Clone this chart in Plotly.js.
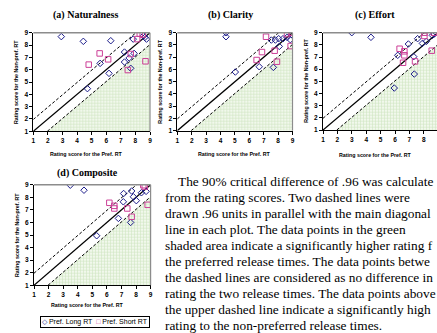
<!DOCTYPE html>
<html><head><meta charset="utf-8">
<script src="https://cdn.plot.ly/plotly-3.0.1.min.js"></script>
<style>html,body{margin:0;padding:0;background:#fff}#c{width:437px;height:333px}</style>
</head><body><div id="c"></div>
<script>
// ---- data ----
const panelTitles = ["(a) Naturalness", "(b) Clarity", "(c) Effort", "(d) Composite"];
const axisTicks = [1, 2, 3, 4, 5, 6, 7, 8, 9];
const critDiff = 0.96;
const seriesNames = ["Pref. Long RT", "Pref. Short RT"];

const natLongX  = [2.92, 4.43, 6.31, 5.58, 4.71, 6.19, 7.25, 7.25, 7.57, 7.91, 7.68, 7.85, 8.55, 8.76, 8.65];
const natLongY  = [8.68, 8.30, 8.35, 6.51, 4.46, 5.70, 7.43, 6.62, 6.95, 7.32, 6.11, 8.48, 8.75, 8.48, 8.62];
const natShortX = [4.80, 5.55, 6.13, 7.68, 7.48, 8.69, 8.12, 8.30, 8.50];
const natShortY = [6.41, 7.32, 6.84, 7.27, 5.97, 6.68, 8.48, 8.92, 8.85];

const claLongX  = [4.38, 4.38, 5.03, 6.69, 7.67, 7.53, 7.81, 8.04, 8.34, 8.62, 8.85, 8.96, 8.08];
const claLongY  = [9.00, 8.67, 5.79, 6.22, 6.17, 8.40, 8.40, 8.51, 8.51, 8.62, 8.43, 8.84, 7.88];
const claShortX = [7.16, 6.88, 6.51, 7.76, 7.92, 8.87, 8.62, 8.92];
const claShortY = [8.67, 7.42, 6.77, 7.53, 6.63, 7.91, 8.89, 9.00];

const effLongX  = [3.00, 4.33, 6.19, 6.93, 7.57, 7.30, 7.34, 5.95, 7.90, 8.18, 8.59, 8.73];
const effLongY  = [9.00, 8.62, 7.14, 8.07, 8.51, 7.03, 5.60, 4.45, 8.12, 8.29, 8.78, 8.89];
const effShortX = [8.04, 8.04, 6.32, 6.65, 6.65, 6.56, 7.39, 8.55, 8.69];
const effShortY = [9.00, 8.73, 7.68, 7.47, 7.14, 6.53, 6.64, 7.52, 9.00];

const comLongX  = [3.49, 4.43, 5.30, 6.79, 7.63, 7.15, 7.13, 7.82, 8.02, 8.37, 8.69, 7.70];
const comLongY  = [8.96, 8.56, 4.94, 6.32, 6.00, 8.30, 7.64, 8.04, 7.73, 8.36, 8.47, 8.50];
const comShortX = [6.17, 6.51, 6.51, 7.40, 7.70, 8.50, 8.60, 8.80];
const comShortY = [7.56, 7.32, 7.11, 7.11, 6.45, 8.96, 8.85, 7.40];

// paragraph as visible in the reference (cropped at the right edge there)
const paragraph = [
  "The 90% critical difference of .96 was calculate",
  "from the rating scores. Two dashed lines were",
  "drawn .96 units in parallel with the main diagonal",
  "line in each plot. The data points in the green",
  "shaded area indicate a significantly higher rating f",
  "the preferred release times. The data points betwe",
  "the dashed lines are considered as no difference in",
  "rating the two release times. The data points above",
  "the upper dashed line indicate a significantly high",
  "rating to the non-preferred release times."
];
const xTitle = "Rating score for the Pref. RT";
const yTitle = "Rating score for the Non-pref. RT";

// ---- layout helpers ----
const W = 437, H = 333;
const px = v => v / W, py = v => 1 - v / H;
const LONG_C = "#1c1c8a", SHORT_C = "#cc3f97";

const panels = [
  {lx: natLongX, ly: natLongY, sx: natShortX, sy: natShortY, x0: 33.3, x1: 150.0, top: 32.7, bot: 131.3, xmax: 9, tcx: 85, tty: 15, ytx: 16, xty: 154},
  {lx: claLongX, ly: claLongY, sx: claShortX, sy: claShortY, x0: 177.3, x1: 292.5, top: 32.7, bot: 130.7, xmax: 9, tcx: 231, tty: 15, ytx: 160, xty: 154},
  {lx: effLongX, ly: effLongY, sx: effShortX, sy: effShortY, x0: 323.0, x1: 437, top: 32.7, bot: 130.0, xmax: 1 + (437 - 323) / 14.4, tcx: 375, tty: 15, ytx: 306.5, xty: 155},
  {lx: comLongX, ly: comLongY, sx: comShortX, sy: comShortY, x0: 34.0, x1: 150.6, top: 184.7, bot: 285.3, xmax: 9, tcx: 87, tty: 173, ytx: 17, xty: 305}
];

const traces = [], shapes = [], annotations = [];
const layout = {
  width: W, height: H, margin: {l: 0, r: 0, t: 0, b: 0},
  paper_bgcolor: "#fff", plot_bgcolor: "rgba(0,0,0,0)", showlegend: false,
  font: {family: "Liberation Sans, Arial, sans-serif", color: "#000"}
};
const tickFont = {family: "Liberation Sans, Arial, sans-serif", size: 6.5, weight: "bold", color: "#000"};

panels.forEach((p, i) => {
  const n = i === 0 ? "" : String(i + 1);
  const xa = "x" + n, ya = "y" + n;
  const lo = axisTicks[0], hi = axisTicks[axisTicks.length - 1];
  const common = {
    showgrid: false, zeroline: false, showline: true, linecolor: "#000", linewidth: 1,
    ticks: "outside", ticklen: 3, tickwidth: 1, tickcolor: "#000",
    tickmode: "array", tickvals: axisTicks, ticktext: axisTicks.map(String),
    tickfont: tickFont, fixedrange: true
  };
  layout["xaxis" + n] = Object.assign({}, common, {
    domain: [px(p.x0), Math.min(1, px(p.x1))], range: [lo, p.xmax], anchor: ya
  });
  layout["yaxis" + n] = Object.assign({}, common, {
    domain: [py(p.bot), py(p.top)], range: [lo, hi], anchor: xa
  });
  // shaded region: below lower dashed line
  traces.push({
    x: [lo + critDiff, hi, hi, lo + critDiff], y: [lo, lo, hi - critDiff, lo],
    xaxis: xa, yaxis: ya, mode: "none", fill: "toself",
    fillcolor: "#eaf4e2",
    fillpattern: {shape: "+", bgcolor: "#f1f8ec", fgcolor: "#cfe5c0", size: 3, solidity: 0.35},
    hoverinfo: "skip", showlegend: false
  });
  // diagonal and critical-difference lines
  traces.push({x: [lo, hi], y: [lo, hi], xaxis: xa, yaxis: ya, mode: "lines",
    line: {color: "#000", width: 1.3}, hoverinfo: "skip", showlegend: false});
  traces.push({x: [lo, hi - critDiff], y: [lo + critDiff, hi], xaxis: xa, yaxis: ya, mode: "lines",
    line: {color: "#000", width: 1, dash: "3px,2px"}, hoverinfo: "skip", showlegend: false});
  traces.push({x: [lo + critDiff, hi], y: [lo, hi - critDiff], xaxis: xa, yaxis: ya, mode: "lines",
    line: {color: "#000", width: 1, dash: "3px,2px"}, hoverinfo: "skip", showlegend: false});
  // markers
  traces.push({x: p.lx, y: p.ly, xaxis: xa, yaxis: ya, mode: "markers", name: seriesNames[0],
    marker: {symbol: "diamond-open", size: 5, color: LONG_C, line: {width: 1}}, showlegend: false});
  traces.push({x: p.sx, y: p.sy, xaxis: xa, yaxis: ya, mode: "markers", name: seriesNames[1],
    marker: {symbol: "square-open", size: 5.5, color: SHORT_C, line: {width: 1}}, showlegend: false});
  // gray frame top / right
  shapes.push({type: "line", xref: xa + " domain", yref: ya + " domain", x0: 0, x1: 1, y0: 1, y1: 1,
    line: {color: "#8c8c8c", width: 1.6}, layer: "above"});
  if (p.xmax === 9) {
    shapes.push({type: "line", xref: xa + " domain", yref: ya + " domain", x0: 1, x1: 1, y0: 0, y1: 1,
      line: {color: "#8c8c8c", width: 1.2}, layer: "above"});
  }
  // titles
  annotations.push({text: "<b>" + panelTitles[i] + "</b>", xref: "paper", yref: "paper",
    x: px(p.tcx), y: py(p.tty), xanchor: "center", yanchor: "middle", showarrow: false,
    font: {family: "Liberation Serif, Times New Roman, serif", size: 10, color: "#000"}});
  annotations.push({text: "<b>" + xTitle + "</b>", xref: "paper", yref: "paper",
    x: px((p.x0 + Math.min(p.x1, 437)) / 2 - (i === 1 ? 0 : 5)), y: py(p.xty), xanchor: "center", yanchor: "middle", showarrow: false,
    font: {family: "Liberation Sans, Arial, sans-serif", size: 5.3, color: "#000"}});
  annotations.push({text: "<b>" + yTitle + "</b>", xref: "paper", yref: "paper", textangle: -90,
    x: px(p.ytx), y: py((p.top + p.bot) / 2), xanchor: "center", yanchor: "middle", showarrow: false,
    font: {family: "Liberation Sans, Arial, sans-serif", size: 5.3, color: "#000"}});
});

// legend box
annotations.push({
  text: '<span style="color:' + LONG_C + '">◇</span> ' + seriesNames[0] + '  <span style="color:' + SHORT_C + '">□</span> ' + seriesNames[1],
  xref: "paper", yref: "paper", x: px(95), y: py(322), xanchor: "center", yanchor: "middle",
  showarrow: false, bordercolor: "#000", borderwidth: 1, borderpad: 1, bgcolor: "#fff",
  font: {family: "Liberation Sans, Arial, sans-serif", size: 7, color: "#000"}
});

// paragraph text
paragraph.forEach((line, k) => {
  annotations.push({text: line, xref: "paper", yref: "paper",
    x: px(k === 0 ? 176 : 163), y: py(181 + k * 16), xanchor: "left", yanchor: "middle",
    showarrow: false, align: "left",
    font: {family: "Liberation Serif, Times New Roman, serif", size: 13.35, color: "#000"}});
});

layout.shapes = shapes;
layout.annotations = annotations;
Plotly.newPlot("c", traces, layout, {displayModeBar: false, staticPlot: true});
</script></body></html>
